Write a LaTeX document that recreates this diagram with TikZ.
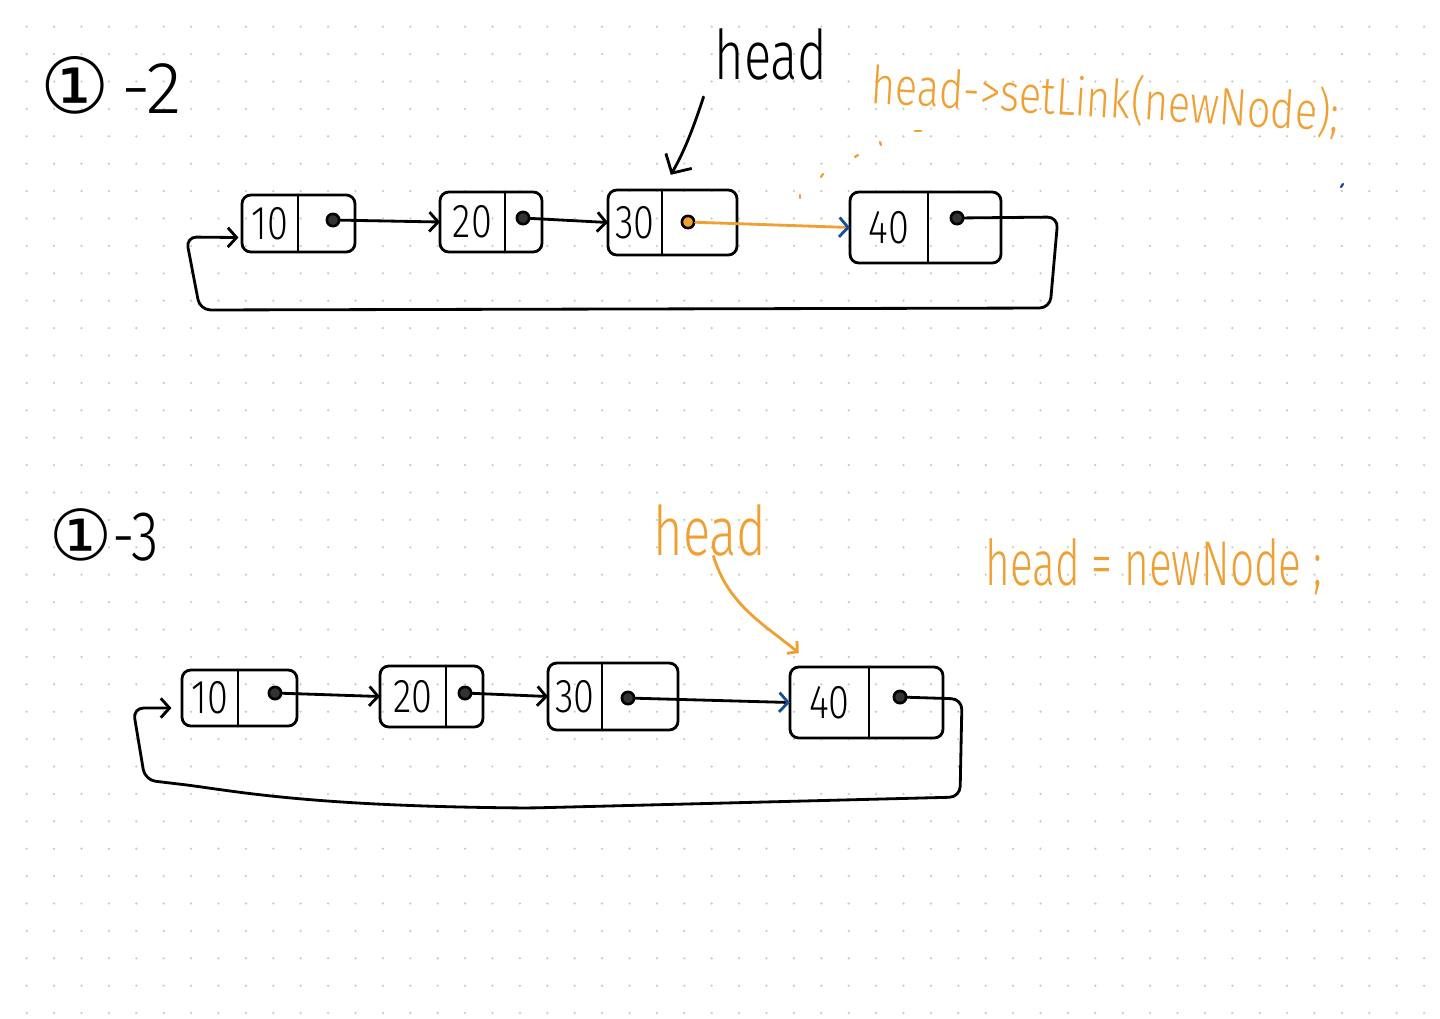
\documentclass[tikz,border=0pt]{standalone}
\usepackage{fontspec}
\usepackage{graphicx}
\usetikzlibrary{arrows.meta,fit}
\newfontfamily\hand[UprightFont={* Light}]{Fira Sans}
\newfontfamily\sym{DejaVu Sans}
\definecolor{hlorange}{RGB}{240,160,50}
\definecolor{penblue}{RGB}{25,75,155}
\definecolor{griddot}{RGB}{200,200,200}
\tikzset{
  pen/.style={line width=1.6pt, line cap=round, line join=round},
  box/.style={pen, rounded corners=5pt},
  part/.style={inner sep=0pt, outer sep=0pt},
  numtext/.style={font=\hand\fontsize{27}{27}\selectfont, inner sep=0pt},
  dotfill/.style={fill=black!80},
  ptrdot/.style={circle, draw, dotfill, line width=1.5pt, minimum size=7pt, inner sep=0pt},
  conn/.style={pen, -{Straight Barb[length=5pt,width=11pt]}},
  bigconn/.style={pen, -{Straight Barb[length=8pt,width=17pt]}},
  handtext/.style={inner sep=0pt, font=\hand\fontsize{39}{39}\selectfont},
  codetext/.style={inner sep=0pt, text=hlorange},
  speck/.style={line width=1.3pt, line cap=round},
}
\newcommand\llnode[9]{%
  \node[part, fit={(#2,#5) (#3,#6)}] (#1v) {};
  \node[part, fit={(#3,#5) (#4,#6)}] (#1p) {};
  \node[numtext] (#1t) at (#1v.center) {\scalebox{0.8}[1]{#7}};
  \draw[box] (#1v.north west) -- (#1p.north east) -- (#1p.south east) -- (#1v.south west) -- cycle;
  \draw[pen] (#1p.north west) -- (#1p.south west);
  \node[ptrdot] (#1d) at (#8,#9) {};
}
\begin{document}
\begin{tikzpicture}[x=0.02cm, y=-0.02cm]
\useasboundingbox (0,0) rectangle (1440,1018);
\fill[white] (0,0) rectangle (1440,1018);
\foreach \i in {1,...,52} {
  \foreach \j in {1,...,37} {
    \fill[griddot] (27.4*\i-0.7, 27.4*\j-0.7) circle (0.7pt);
  }
}

% ---------- section 1-2 ----------
\node[inner sep=0pt, anchor=base west] (lab1) at (40,113)
  {{\sym\fontsize{44}{44}\selectfont ①}{\hand\fontsize{42}{42}\selectfont\,-2}};

\llnode{a1}{242}{298}{355}{195}{252}{10}{333}{220}
\llnode{a2}{440}{505}{542}{192}{252}{20}{523}{218}
\tikzset{dotfill/.style={fill=hlorange}}
\llnode{a3}{608}{662}{737}{190}{255}{30}{688}{222}
\tikzset{dotfill/.style={fill=black!80}}
\llnode{a4}{850}{928}{1001}{192}{263}{40}{957}{218}

\draw[conn] (a1d) -- (a2v.west);
\draw[conn] (a2d) -- (a3v.west);
\draw[pen, hlorange, -{Straight Barb[length=5pt,width=11pt,color=penblue]}] (a3d) -- (a4v.west);
\draw[conn, rounded corners=6pt, shorten >=2pt] (a4d) -- (1058,217) -- (1050,308) -- (200,310) -- (186,237) -- ([yshift=-8pt]a1v.west);

\node[handtext] (hd1) at (771,54) {\scalebox{0.74}[1]{head}};
\draw[bigconn, shorten >=10pt] ([xshift=-6pt,yshift=-9.5pt]hd1.south west) to[bend left=6] (a3v.north east);

\node[codetext, anchor=base west, rotate=-3.5, font=\hand\fontsize{30}{30}\selectfont] (setl) at (870,103)
  {\scalebox{0.785}[1]{head->setLink(newNode);}};

\draw[speck, hlorange] (915,131) -- (921,131);
\draw[speck, hlorange] (880,142) -- (881,145);
\draw[speck, hlorange] (855,157) -- (858,155);
\draw[speck, hlorange] (821,177) -- (823,174);
\draw[speck, hlorange] (800,195) -- (800,198);
\draw[speck, penblue] (1341,187) -- (1343,184);

% ---------- section 1-3 ----------
\node[inner sep=0pt, anchor=base west] (lab2) at (49,560)
  {{\sym\fontsize{40}{40}\selectfont ①}{\hand\fontsize{40}{40}\selectfont\scalebox{0.8}[1]{-3}}};

\llnode{b1}{182}{238}{297}{670}{726}{10}{275}{693}
\llnode{b2}{380}{446}{483}{666}{727}{20}{465}{693}
\llnode{b3}{548}{602}{678}{663}{730}{30}{628}{698}
\llnode{b4}{790}{869}{943}{667}{738}{40}{900}{697}

\draw[conn] (b1d) -- (b2v.west);
\draw[conn] (b2d) -- (b3v.west);
\draw[pen, -{Straight Barb[length=5pt,width=11pt,color=penblue]}] (b3d) -- (b4v.west);
\draw[conn, rounded corners=6pt, shorten >=6pt] (b4d) -- (962,699) -- (960,797) -- (530,808) .. controls (300,806) and (230,790) .. (170,783) -- (145,780) -- (133,708) -- ([yshift=-5.7pt]b1v.west);

\node[handtext, text=hlorange] (hd2) at (710,530) {\scalebox{0.74}[1]{head}};
\draw[pen, hlorange, -{Straight Barb[length=4pt,width=9pt]}] ([xshift=2pt]hd2.south) .. controls (728,605) and (765,625) .. ([xshift=5pt,yshift=8pt]b4v.north west);

\node[codetext, anchor=base west, font=\hand\fontsize{36}{36}\selectfont] (newn) at (985,585)
  {\scalebox{0.67}[1]{head = newNode ;}};
\end{tikzpicture}
\end{document}
